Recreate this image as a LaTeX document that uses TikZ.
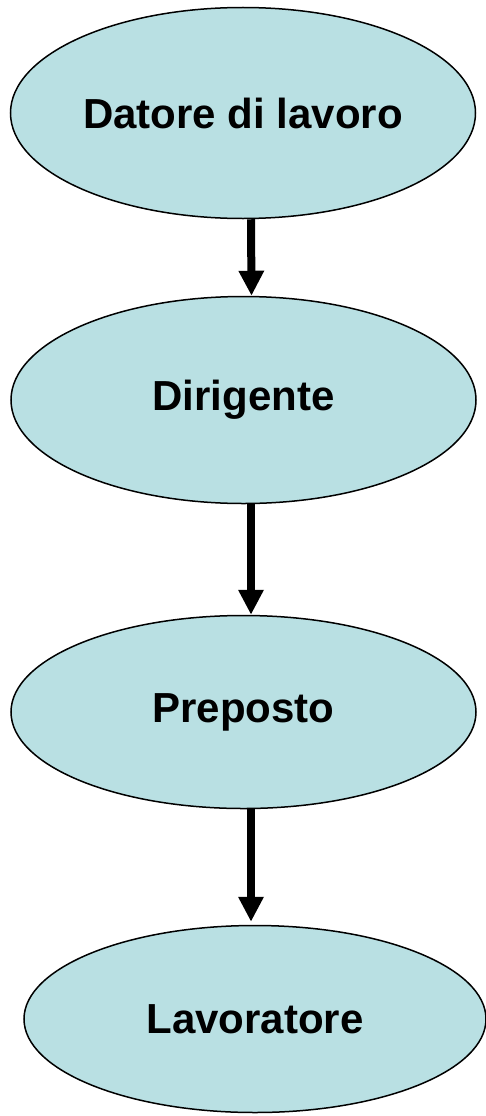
\documentclass[tikz,border=0pt]{standalone}
\usepackage{fontspec}
\setmainfont{Liberation Sans}
\usetikzlibrary{positioning, arrows.meta, shapes.geometric}

\definecolor{boxblue}{RGB}{185,224,227}

\tikzset{
    role/.style={draw=black, fill=boxblue, ellipse, line width=1.5pt, inner sep=0pt,
          font=\fontsize{42}{50}\selectfont\bfseries},
    flow/.style={-{Triangle[length=25pt, width=24pt]}, line width=8pt, black}
}

\begin{document}
\begin{tikzpicture}[x=1pt, y=-1pt]
    \useasboundingbox (0,0) rectangle (486,1116);

    % roles
    \node[role, minimum width=465pt, minimum height=211pt] (datore) at (243,113) {Datore di lavoro};
    \node[role, minimum width=465pt, minimum height=207pt] (dirigente) at (243.5,400) {Dirigente};
    \node[role, minimum width=465pt, minimum height=193pt] (preposto) at (243.5,712) {Preposto};
    \node[role, minimum width=462pt, minimum height=187pt] (lavoratore) at (255,1019) {Lavoratore};

    % chain
    \draw[flow] ([xshift=8pt]datore.south) -- ([xshift=8pt]dirigente.north);
    \draw[flow] ([xshift=7.5pt]dirigente.south) -- ([xshift=7.5pt]preposto.north);
    \draw[flow] ([xshift=7.5pt]preposto.south) -- ([xshift=-4pt, yshift=3pt]lavoratore.north);
\end{tikzpicture}
\end{document}
